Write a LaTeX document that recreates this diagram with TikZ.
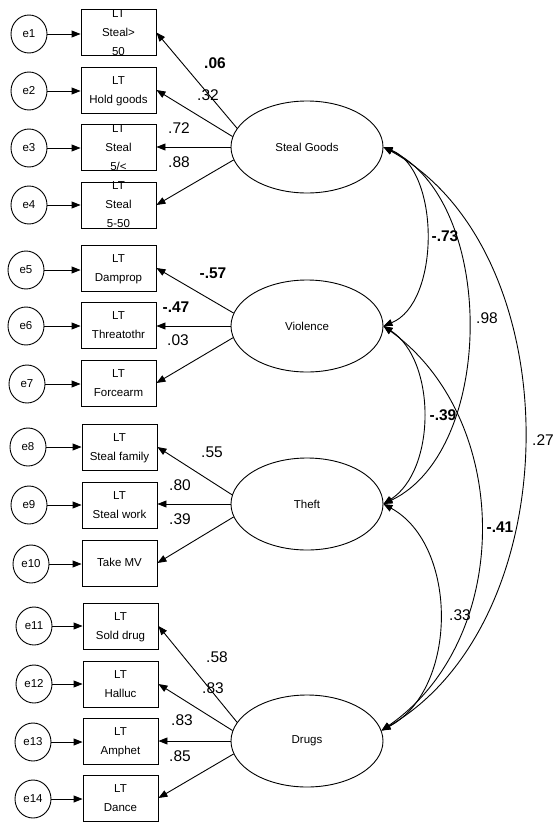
\documentclass[tikz,border=0pt]{standalone}
\usepackage{fontspec}
\setmainfont{Liberation Sans}
\usetikzlibrary{arrows.meta,shapes.geometric}
% multi-line indicator text, centred on the node without enlarging it
\newcommand\boxlines[1]{\raisebox{-2.9pt}[0pt][0pt]{\begin{tabular}{@{}c@{}}#1\end{tabular}}}
\tikzset{
  ind/.style={draw, line width=0.9pt, minimum width=75pt, minimum height=46pt,
    inner sep=0pt, font=\fontsize{11.5}{19}\selectfont},
  errnode/.style={draw, ellipse, line width=0.9pt, minimum width=36pt,
    minimum height=38pt, inner sep=0pt, font=\fontsize{11.5}{14}\selectfont},
  lat/.style={draw, ellipse, line width=0.9pt, minimum width=152pt,
    minimum height=92pt, inner sep=0pt, font=\fontsize{11.5}{14}\selectfont},
  ld/.style={line width=0.9pt, -{Triangle[length=9pt,width=7pt]}},
  cov/.style={line width=0.9pt,
    {Triangle[length=9pt,width=7pt]}-{Triangle[length=9pt,width=7pt]}},
  coef/.style={inner sep=0pt, font=\fontsize{15.5}{18}\selectfont},
  coefb/.style={inner sep=0pt, font=\fontsize{15.5}{18}\selectfont\bfseries},
}
\begin{document}
\begin{tikzpicture}[x=1pt, y=-1pt]
\useasboundingbox (0,0) rectangle (554,822);

% latent factors
\node[lat] (sg) at (307,147) {Steal Goods};
\node[lat] (vi) at (307,326) {Violence};
\node[lat] (th) at (307,504) {Theft};
\node[lat] (dr) at (307,741) {Drugs};

% indicators
\node[ind] (b1)  at (118.5,32.5) {\boxlines{LT\\Steal>\\50}};
\node[ind] (b2)  at (118.5,90)   {\boxlines{LT\\Hold goods}};
\node[ind] (b3)  at (118.5,147.5){\boxlines{LT\\Steal\\5/<}};
\node[ind] (b4)  at (118.5,205)  {\boxlines{LT\\Steal\\5-50}};
\node[ind] (b5)  at (118.5,268)  {\boxlines{LT\\Damprop}};
\node[ind] (b6)  at (118.5,325)  {\boxlines{LT\\Threatothr}};
\node[ind] (b7)  at (118.5,383)  {\boxlines{LT\\Forcearm}};
\node[ind] (b8)  at (119.5,447)  {\boxlines{LT\\Steal family}};
\node[ind] (b9)  at (119.5,505)  {\boxlines{LT\\Steal work}};
\node[ind] (b10) at (119.5,563)  {\boxlines{Take MV}};
\node[ind] (b11) at (120.5,626)  {\boxlines{LT\\Sold drug}};
\node[ind] (b12) at (120.5,684)  {\boxlines{LT\\Halluc}};
\node[ind] (b13) at (120.5,741)  {\boxlines{LT\\Amphet}};
\node[ind] (b14) at (120.5,798)  {\boxlines{LT\\Dance}};

% error terms
\node[errnode] (e1)  at (29,34)  {e1};
\node[errnode] (e2)  at (29,91)  {e2};
\node[errnode] (e3)  at (29,148) {e3};
\node[errnode] (e4)  at (29,205) {e4};
\node[errnode] (e5)  at (26,270) {e5};
\node[errnode] (e6)  at (26,326) {e6};
\node[errnode] (e7)  at (27,384) {e7};
\node[errnode] (e8)  at (28,447) {e8};
\node[errnode] (e9)  at (29,505) {e9};
\node[errnode] (e10) at (31,564) {e10};
\node[errnode] (e11) at (34,626) {e11};
\node[errnode] (e12) at (34,684) {e12};
\node[errnode] (e13) at (33,742) {e13};
\node[errnode] (e14) at (33,799) {e14};

\foreach \i in {1,...,14}
  \draw[ld] (e\i.east) -- (e\i.east -| b\i.west);

% loadings
\draw[ld] (sg.165) -- (b1.east);
\draw[ld] (sg.172) -- (b2.east);
\draw[ld] (sg.west) -- (sg.west -| b3.east);
\draw[ld] (sg.190) -- (b4.east);
\draw[ld] (vi.170) -- (b5.east);
\draw[ld] (vi.west) -- (vi.west -| b6.east);
\draw[ld] (vi.189) -- (b7.east);
\draw[ld] (th.173) -- (b8.east);
\draw[ld] (th.west) -- (th.west -| b9.east);
\draw[ld] (th.190) -- (b10.east);
\draw[ld] (dr.165) -- (b11.east);
\draw[ld] (dr.172) -- (b12.east);
\draw[ld] (dr.west) -- (dr.west -| b13.east);
\draw[ld] (dr.190) -- (b14.east);

% factor covariances
\draw[cov] (sg.east) .. controls +(57,23)   and +(57,-23)   .. (vi.east);
\draw[cov] (sg.east) .. controls +(113,53)  and +(113,-54)  .. (th.east);
\draw[cov] (sg.east) .. controls +(188,103) and +(190,-111) .. (dr.8);
\draw[cov] (vi.east) .. controls +(53,34)   and +(53,-34)   .. (th.east);
\draw[cov] (vi.east) .. controls +(130,94)  and +(132,-91)  .. (dr.8);
\draw[cov] (th.east) .. controls +(75,41)   and +(77,-41)   .. (dr.8);

% loading estimates
\node[coefb] (l1)  at (215,63)  {.06};
\node[coef]  (l2)  at (208,95)  {.32};
\node[coef]  (l3)  at (179,128) {.72};
\node[coef]  (l4)  at (179,162) {.88};
\node[coefb] (l5)  at (213,273) {-.57};
\node[coefb] (l6)  at (176,307) {-.47};
\node[coef]  (l7)  at (178,340) {.03};
\node[coef]  (l8)  at (212,452) {.55};
\node[coef]  (l9)  at (180,485) {.80};
\node[coef]  (l10) at (180,519) {.39};
\node[coef]  (l11) at (217,657) {.58};
\node[coef]  (l12) at (213,688) {.83};
\node[coef]  (l13) at (182,720) {.83};
\node[coef]  (l14) at (180,756) {.85};

% covariance estimates
\node[coefb] (c1) at (445,236) {-.73};
\node[coef]  (c2) at (487,318) {.98};
\node[coefb] (c3) at (443,415) {-.39};
\node[coef]  (c4) at (543,440) {.27};
\node[coefb] (c5) at (500,527) {-.41};
\node[coef]  (c6) at (460,615) {.33};
\end{tikzpicture}
\end{document}
